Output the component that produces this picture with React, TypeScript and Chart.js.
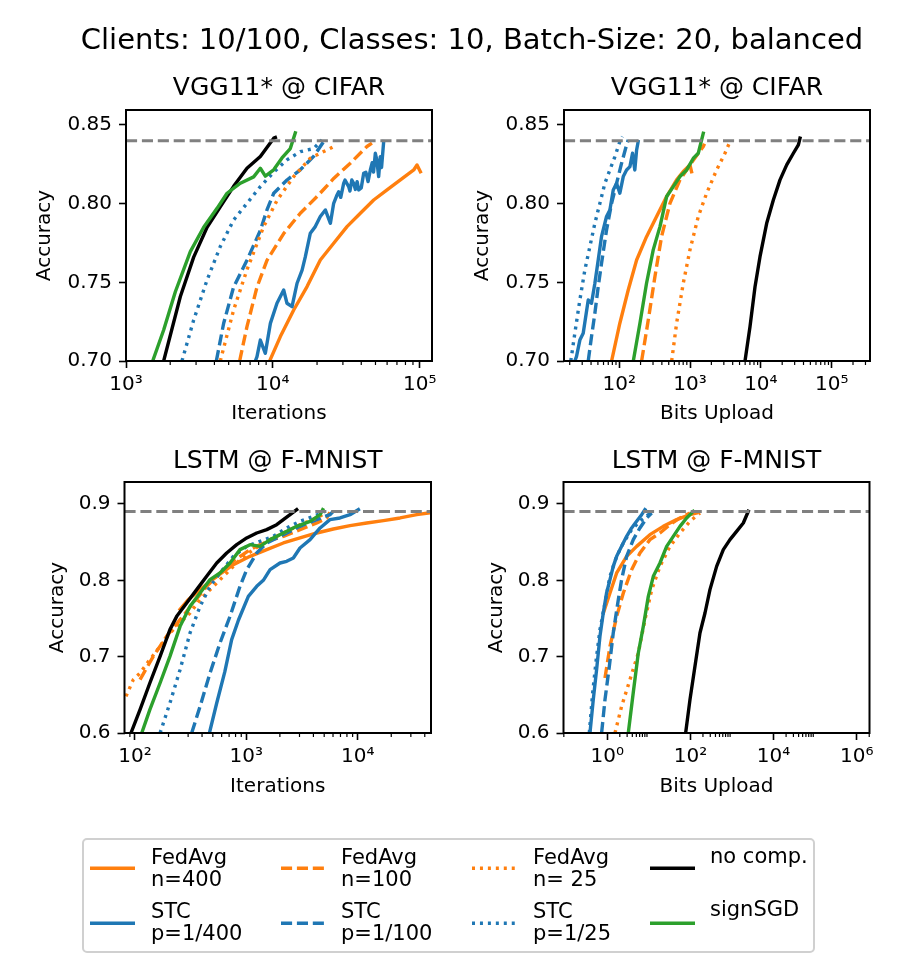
import React, { useEffect, useRef } from 'react';
import { Chart, registerables } from 'chart.js';
Chart.register(...registerables);

type Pt = [number, number];

const FONT = 'DejaVu Sans';

// ---------- series metadata (legend order, also plotting order) ----------
const SERIES_LABELS = ['FedAvg n=400', 'STC p=1/400', 'FedAvg n=100', 'STC p=1/100', 'FedAvg n= 25', 'STC p=1/25', 'no comp.', 'signSGD'];
const ORANGE = '#ff7f0e';
const BLUE = '#1f77b4';
const GREEN = '#2ca02c';
const BLACK = '#000000';
const GRAY = '#808080';
const DASH = [11.1, 4.8];
const DOT = [3, 4.95];
const SERIES_COLORS = [ORANGE, BLUE, ORANGE, BLUE, ORANGE, BLUE, BLACK, GREEN];
const SERIES_DASHES: number[][] = [[], [], DASH, DASH, DOT, DOT, [], []];

// ---------- titles ----------
const SUPTITLE = 'Clients: 10/100, Classes: 10, Batch-Size: 20, balanced';
const TITLE_CIFAR = 'VGG11* @ CIFAR';
const TITLE_FMNIST = 'LSTM @ F-MNIST';
const X_LABEL_ITER = 'Iterations';
const X_LABEL_BITS = 'Bits Upload';
const Y_LABEL = 'Accuracy';

// ---------- thresholds ----------
const THRESH_CIFAR = 0.84;
const THRESH_FMNIST = 0.89;

// ---------- tick values ----------
const Y_TICKS_CIFAR = [0.7, 0.75, 0.8, 0.85];
const Y_TICKS_FMNIST = [0.6, 0.7, 0.8, 0.9];
const TL_X_MAJOR = [1e3, 1e4, 1e5];
const TL_X_LABELS = ['10³', '10⁴', '10⁵'];
const TR_X_MAJOR = [1e2, 1e3, 1e4, 1e5];
const TR_X_LABELS = ['10²', '10³', '10⁴', '10⁵'];
const BL_X_MAJOR = [1e2, 1e3, 1e4];
const BL_X_LABELS = ['10²', '10³', '10⁴'];
const BR_X_MAJOR = [1, 1e2, 1e4, 1e6];
const BR_X_LABELS = ['10⁰', '10²', '10⁴', '10⁶'];
const TL_MINOR_DECADES = [3, 4, 5];
const TR_MINOR_DECADES = [1, 2, 3, 4, 5];
const BL_MINOR_DECADES = [1, 2, 3, 4];
const BR_MINOR_DECADES = [-2, 0, 2, 4, 6];

// ---------- axis ranges ----------
const TL_X_RANGE = [1000, 121300];
const TR_X_RANGE = [16.6, 347500];
const BL_X_RANGE = [80.5, 45500];
const BR_X_RANGE = [0.0884, 2.03e6];
const Y_RANGE_CIFAR = [0.7, 0.8595];
const Y_RANGE_FMNIST = [0.6, 0.9288];

// ---------- TOP-LEFT: VGG11* @ CIFAR, iterations ----------
const TL_FEDAVG_400: Pt[] = [[9510, 0.700], [11250, 0.7155], [13870, 0.7324], [17100, 0.7473], [21050, 0.7642], [25960, 0.7748], [31990, 0.7854], [39420, 0.7939], [48600, 0.8023], [59940, 0.8087], [73860, 0.8151], [91070, 0.8214], [95900, 0.8246], [101100, 0.8203]];
const TL_STC_400: Pt[] = [[7600, 0.700], [7800, 0.7028], [8220, 0.7133], [8890, 0.7049], [9620, 0.7239], [10670, 0.7367], [11850, 0.7451], [12480, 0.7367], [13510, 0.7345], [14620, 0.7494], [15820, 0.7578], [16650, 0.7663], [18000, 0.7812], [19460, 0.7854], [21050, 0.7918], [22780, 0.796], [24660, 0.7875], [25960, 0.8002], [27200, 0.805], [28070, 0.8076], [29000, 0.804], [30360, 0.8129], [31000, 0.815], [32830, 0.8108], [33500, 0.808], [34500, 0.815], [35500, 0.8129], [36500, 0.809], [37500, 0.814], [38420, 0.8087], [40000, 0.81], [41560, 0.8193], [43000, 0.82], [44500, 0.814], [46130, 0.8214], [47500, 0.826], [48500, 0.82], [49890, 0.832], [51000, 0.828], [52550, 0.8172], [53920, 0.8299], [55000, 0.823], [56860, 0.8394]];
const TL_FEDAVG_100: Pt[] = [[5940, 0.700], [6665, 0.7218], [7800, 0.747], [9120, 0.764], [11850, 0.781], [15380, 0.7939], [20000, 0.8045], [25960, 0.816], [33700, 0.8257], [43740, 0.8363], [47300, 0.8384]];
const TL_STC_100: Pt[] = [[4122, 0.700], [4625, 0.724], [5405, 0.747], [6665, 0.764], [8220, 0.783], [9120, 0.796], [10140, 0.8066], [12480, 0.815], [15380, 0.8215], [18960, 0.830], [22180, 0.8394]];
const TL_FEDAVG_25: Pt[] = [[4385, 0.700], [5405, 0.7324], [6665, 0.758], [8660, 0.7854], [10670, 0.802], [13870, 0.8172], [18000, 0.8289], [24660, 0.8352], [25960, 0.8363]];
const TL_STC_25: Pt[] = [[2404, 0.700], [2890, 0.726], [3565, 0.7515], [4385, 0.7727], [5405, 0.7896], [6665, 0.8002], [8220, 0.8108], [10140, 0.820], [12480, 0.8278], [15380, 0.833], [18960, 0.835], [21600, 0.8405]];
const TL_NOCOMP: Pt[] = [[1805, 0.700], [2345, 0.741], [2890, 0.766], [3565, 0.785], [4385, 0.798], [5405, 0.811], [6665, 0.8225], [8220, 0.830], [10140, 0.8416], [10400, 0.842]];
const TL_SIGNSGD: Pt[] = [[1520, 0.700], [1805, 0.7197], [2168, 0.744], [2742, 0.7695], [3380, 0.785], [4170, 0.797], [4876, 0.8066], [6012, 0.813], [7400, 0.817], [8220, 0.8225], [8890, 0.8175], [10130, 0.8215], [11540, 0.829], [13150, 0.835], [14220, 0.845]];

// ---------- TOP-RIGHT: VGG11* @ CIFAR, bits upload ----------
const TR_FEDAVG_400: Pt[] = [[78, 0.700], [102, 0.724], [134, 0.7451], [176, 0.7642], [243, 0.779], [337, 0.7918], [467, 0.8045], [646, 0.8151], [802, 0.8204], [997, 0.8246], [1050, 0.8203]];
const TR_STC_400: Pt[] = [[23.6, 0.700], [24.9, 0.7028], [27.8, 0.7133], [31, 0.7176], [36.5, 0.7388], [40.6, 0.7367], [45.3, 0.7494], [50.5, 0.7642], [56.2, 0.779], [66.2, 0.7918], [73.8, 0.796], [82.3, 0.8087], [91.7, 0.8129], [102, 0.8066], [114, 0.8172], [127, 0.8214], [141.6, 0.8235], [154, 0.832], [166, 0.8214], [176, 0.8341], [185, 0.8394]];
const TR_FEDAVG_100: Pt[] = [[207, 0.700], [257, 0.726], [319, 0.7536], [396, 0.779], [520, 0.8002], [720, 0.8151], [997, 0.8246], [1307, 0.832], [1537, 0.8363], [1600, 0.838]];
const TR_STC_100: Pt[] = [[36.5, 0.700], [40.6, 0.7155], [45.3, 0.7303], [50.5, 0.7473], [56.2, 0.762], [66.2, 0.7833], [78, 0.8002], [91.7, 0.8129], [108, 0.8257], [127, 0.8373], [134, 0.8405]];
const TR_FEDAVG_25: Pt[] = [[550, 0.700], [646, 0.724], [802, 0.7494], [997, 0.7706], [1307, 0.7918], [1714, 0.8066], [2372, 0.8214], [3111, 0.832], [3660, 0.8394]];
const TR_STC_25: Pt[] = [[20.7, 0.700], [23.6, 0.7176], [27.8, 0.7388], [32.7, 0.7578], [38.5, 0.7727], [45.3, 0.7875], [53.3, 0.8002], [62.7, 0.8129], [73.8, 0.8214], [86.9, 0.8299], [102, 0.8394], [111, 0.8426]];
const TR_NOCOMP: Pt[] = [[5970, 0.700], [7020, 0.7218], [8260, 0.747], [9720, 0.7663], [12080, 0.7875], [15000, 0.8023], [18630, 0.8151], [23160, 0.8246], [28770, 0.832], [33840, 0.8373], [35700, 0.8416]];
const TR_SIGNSGD: Pt[] = [[158, 0.700], [196, 0.724], [243, 0.7494], [302, 0.7706], [376, 0.7854], [467, 0.8045], [580, 0.8108], [720, 0.8172], [895, 0.8214], [1112, 0.8288], [1307, 0.832], [1537, 0.8447]];

// ---------- BOTTOM-LEFT: LSTM @ F-MNIST, iterations ----------
const BL_FEDAVG_400: Pt[] = [[254, 0.762], [300, 0.7745], [384, 0.7878], [542, 0.8052], [764, 0.8205], [1079, 0.8314], [1524, 0.8402], [2149, 0.8489], [3032, 0.8555], [4285, 0.862], [6040, 0.8672], [8530, 0.8716], [12050, 0.8751], [17010, 0.8782], [24000, 0.8817], [33880, 0.886], [43150, 0.8882]];
const BL_STC_400: Pt[] = [[466, 0.600], [542, 0.6393], [640, 0.680], [738, 0.7223], [850, 0.748], [1042, 0.779], [1239, 0.7921], [1420, 0.800], [1633, 0.814], [2006, 0.8227], [2301, 0.8249], [2642, 0.8293], [3032, 0.8424], [3733, 0.8533], [4592, 0.8686], [5630, 0.8795], [6930, 0.8817], [8530, 0.886], [10140, 0.8926]];
const BL_FEDAVG_100: Pt[] = [[111, 0.670], [146, 0.7004], [192, 0.7266], [254, 0.7485], [334, 0.7703], [440, 0.7921], [580, 0.8096], [764, 0.8249], [1079, 0.8402], [1524, 0.8511], [2149, 0.8576], [3032, 0.8664], [4285, 0.8751], [5270, 0.8817], [5630, 0.889]];
const BL_STC_100: Pt[] = [[323, 0.600], [384, 0.6349], [472, 0.6786], [580, 0.7179], [713, 0.7528], [877, 0.7921], [1007, 0.814], [1239, 0.8358], [1524, 0.8489], [2149, 0.8598], [3032, 0.8707], [4285, 0.8795], [5630, 0.886], [6040, 0.8904]];
const BL_FEDAVG_25: Pt[] = [[83, 0.648], [96.6, 0.6699], [111, 0.6786], [136, 0.6961], [168, 0.7135], [206, 0.731], [254, 0.7441], [312, 0.7572], [384, 0.7747], [505, 0.7921], [666, 0.8096], [877, 0.8271], [1156, 0.8402], [1524, 0.8511], [2149, 0.862], [3032, 0.8729], [4285, 0.8817], [5090, 0.8882]];
const BL_STC_25: Pt[] = [[168, 0.600], [206, 0.6393], [254, 0.683], [312, 0.731], [384, 0.7659], [472, 0.7921], [580, 0.8096], [764, 0.8314], [1007, 0.8445], [1327, 0.8511], [1749, 0.8576], [2301, 0.8686], [3032, 0.8773], [4000, 0.8838], [5090, 0.8904]];
const BL_NOCOMP: Pt[] = [[92, 0.600], [111, 0.6306], [136, 0.6655], [168, 0.7004], [206, 0.7354], [237, 0.7528], [291, 0.7703], [358, 0.7878], [440, 0.8052], [542, 0.8227], [666, 0.8358], [819, 0.8467], [1007, 0.8555], [1239, 0.862], [1524, 0.8664], [1872, 0.8729], [2149, 0.8795], [2467, 0.886], [2832, 0.8926]];
const BL_SIGNSGD: Pt[] = [[115, 0.600], [136, 0.6306], [168, 0.6655], [206, 0.7004], [254, 0.7397], [312, 0.7659], [384, 0.7834], [472, 0.8009], [580, 0.8096], [713, 0.8227], [877, 0.8402], [1079, 0.8467], [1327, 0.8445], [1633, 0.8533], [2149, 0.862], [2832, 0.8707], [3733, 0.8773], [4592, 0.886], [4850, 0.8926]];

// ---------- BOTTOM-RIGHT: LSTM @ F-MNIST, bits upload ----------
const BR_FEDAVG_400: Pt[] = [[0.83, 0.7594], [1.16, 0.7834], [1.68, 0.8096], [2.92, 0.8314], [5.08, 0.8445], [10.6, 0.8598], [22.2, 0.8707], [46.6, 0.8795], [97.5, 0.886], [141, 0.8882]];
const BR_STC_400: Pt[] = [[0.383, 0.600], [0.46, 0.6437], [0.553, 0.683], [0.666, 0.7266], [0.8, 0.7572], [0.96, 0.7834], [1.16, 0.8009], [1.39, 0.8183], [1.68, 0.8314], [2.21, 0.8445], [2.92, 0.8576], [3.85, 0.8686], [5.08, 0.8773], [6.7, 0.886], [8.05, 0.8926]];
const BR_FEDAVG_100: Pt[] = [[0.88, 0.672], [1.16, 0.7135], [1.68, 0.7528], [2.43, 0.7834], [3.85, 0.814], [6.1, 0.8358], [10.6, 0.8533], [18.5, 0.862], [32.2, 0.8729], [56, 0.8817], [97.5, 0.8882]];
const BR_STC_100: Pt[] = [[0.73, 0.600], [0.88, 0.6437], [1.12, 0.6873], [1.39, 0.731], [1.84, 0.7747], [2.21, 0.8009], [2.92, 0.8314], [4.22, 0.8533], [6.1, 0.8686], [8.84, 0.8817], [11.7, 0.8882]];
const BR_FEDAVG_25: Pt[] = [[1.53, 0.600], [2.21, 0.6349], [3.51, 0.6699], [5.57, 0.7048], [8.05, 0.7485], [11.7, 0.7878], [18.5, 0.8183], [32.2, 0.8445], [56, 0.862], [97.5, 0.8773], [169.5, 0.8882]];
const BR_STC_25: Pt[] = [[0.369, 0.600], [0.444, 0.6524], [0.553, 0.7004], [0.666, 0.7354], [0.88, 0.7703], [1.16, 0.8052], [1.68, 0.8314], [2.43, 0.8489], [3.85, 0.8664], [6.1, 0.8773], [9.7, 0.886], [11.7, 0.8882]];
const BR_NOCOMP: Pt[] = [[76.7, 0.600], [97.5, 0.6437], [128.5, 0.6873], [169.5, 0.731], [224, 0.7572], [295, 0.7878], [427, 0.8183], [618, 0.8402], [893, 0.8533], [1291, 0.8642], [1871, 0.8751], [2466, 0.8904]];
const BR_SIGNSGD: Pt[] = [[3.2, 0.600], [4.2, 0.6524], [5.57, 0.7048], [7.35, 0.7397], [9.7, 0.779], [12.8, 0.8052], [18.5, 0.8227], [26.8, 0.8445], [38.7, 0.8576], [56, 0.8707], [81, 0.8817], [117, 0.8904]];

// ---------- panel configuration ----------
interface Box { x: number; y: number; w: number; h: number; padRight: number; titlePadTop: number; titlePadBottom: number; yWidth: number; yTitlePad: number; xHeight: number; xTitlePad: number; }
interface PanelCfg {
  title: string; xLabel: string;
  xRange: number[]; yRange: number[];
  yTicks: number[]; yDecimals: number;
  xMajor: number[]; xLabels: string[]; minorDecades: number[];
  threshold: number; series: Pt[][]; box: Box;
}

function minorTicks(decades: number[], min: number, max: number): number[] {
  const out: number[] = [];
  for (const e of decades) for (let m = 2; m <= 9; m++) {
    const v = m * Math.pow(10, e);
    if (v >= min * 0.9999 && v <= max * 1.0001) out.push(v);
  }
  return out;
}

const PANELS: PanelCfg[] = [
  {
    title: TITLE_CIFAR, xLabel: X_LABEL_ITER, xRange: TL_X_RANGE, yRange: Y_RANGE_CIFAR, yTicks: Y_TICKS_CIFAR, yDecimals: 2,
    xMajor: TL_X_MAJOR, xLabels: TL_X_LABELS, minorDecades: TL_MINOR_DECADES, threshold: THRESH_CIFAR,
    series: [TL_FEDAVG_400, TL_STC_400, TL_FEDAVG_100, TL_STC_100, TL_FEDAVG_25, TL_STC_25, TL_NOCOMP, TL_SIGNSGD],
    box: { x: 0, y: 60, w: 450, h: 375, padRight: 18, titlePadTop: 13.7, titlePadBottom: 6.3, yWidth: 126, yTitlePad: 33, xHeight: 74, xTitlePad: 9 },
  },
  {
    title: TITLE_CIFAR, xLabel: X_LABEL_BITS, xRange: TR_X_RANGE, yRange: Y_RANGE_CIFAR, yTicks: Y_TICKS_CIFAR, yDecimals: 2,
    xMajor: TR_X_MAJOR, xLabels: TR_X_LABELS, minorDecades: TR_MINOR_DECADES, threshold: THRESH_CIFAR,
    series: [TR_FEDAVG_400, TR_STC_400, TR_FEDAVG_100, TR_STC_100, TR_FEDAVG_25, TR_STC_25, TR_NOCOMP, TR_SIGNSGD],
    box: { x: 450, y: 60, w: 450, h: 375, padRight: 30, titlePadTop: 13.7, titlePadBottom: 6.3, yWidth: 114, yTitlePad: 21, xHeight: 74, xTitlePad: 9 },
  },
  {
    title: TITLE_FMNIST, xLabel: X_LABEL_ITER, xRange: BL_X_RANGE, yRange: Y_RANGE_FMNIST, yTicks: Y_TICKS_FMNIST, yDecimals: 1,
    xMajor: BL_X_MAJOR, xLabels: BL_X_LABELS, minorDecades: BL_MINOR_DECADES, threshold: THRESH_FMNIST,
    series: [BL_FEDAVG_400, BL_STC_400, BL_FEDAVG_100, BL_STC_100, BL_FEDAVG_25, BL_STC_25, BL_NOCOMP, BL_SIGNSGD],
    box: { x: 0, y: 435, w: 450, h: 380, padRight: 19, titlePadTop: 11, titlePadBottom: 6, yWidth: 124.5, yTitlePad: 46, xHeight: 82, xTitlePad: 16 },
  },
  {
    title: TITLE_FMNIST, xLabel: X_LABEL_BITS, xRange: BR_X_RANGE, yRange: Y_RANGE_FMNIST, yTicks: Y_TICKS_FMNIST, yDecimals: 1,
    xMajor: BR_X_MAJOR, xLabels: BR_X_LABELS, minorDecades: BR_MINOR_DECADES, threshold: THRESH_FMNIST,
    series: [BR_FEDAVG_400, BR_STC_400, BR_FEDAVG_100, BR_STC_100, BR_FEDAVG_25, BR_STC_25, BR_NOCOMP, BR_SIGNSGD],
    box: { x: 450, y: 435, w: 450, h: 380, padRight: 30.5, titlePadTop: 11, titlePadBottom: 6, yWidth: 113.5, yTitlePad: 35, xHeight: 82, xTitlePad: 16 },
  },
];

function isMajor(v: number, majors: number[]) {
  return majors.some((m) => Math.abs(v - m) / m < 1e-6);
}

function Panel({ cfg }: { cfg: PanelCfg }) {
  const ref = useRef<HTMLCanvasElement>(null);
  useEffect(() => {
    const canvas = ref.current;
    if (!canvas) return;
    const [xMin, xMax] = cfg.xRange;
    const [yMin, yMax] = cfg.yRange;
    const minors = minorTicks(cfg.minorDecades, xMin, xMax);
    const b = cfg.box;

    const datasets: any[] = cfg.series.map((pts, i) => ({
      label: SERIES_LABELS[i],
      data: pts.map(([x, y]) => ({ x, y })),
      borderColor: SERIES_COLORS[i],
      backgroundColor: SERIES_COLORS[i],
      borderDash: SERIES_DASHES[i],
      borderWidth: 3.4,
      borderCapStyle: SERIES_DASHES[i].length ? 'butt' : 'square',
      borderJoinStyle: 'round',
      pointRadius: 0,
      fill: false,
      tension: 0,
      clip: 0,
      order: -i,
    }));
    datasets.push({
      label: 'threshold',
      data: [{ x: xMin, y: cfg.threshold }, { x: xMax, y: cfg.threshold }],
      borderColor: GRAY,
      borderDash: DASH,
      borderWidth: 3,
      borderCapStyle: 'butt',
      pointRadius: 0,
      fill: false,
      clip: 0,
      order: -100,
    });

    const framePlugin = {
      id: 'frame',
      afterDraw(chart: any) {
        const { ctx, chartArea } = chart;
        const { left, top, right, bottom } = chartArea;
        const xs = chart.scales.x;
        ctx.save();
        ctx.strokeStyle = '#000';
        ctx.lineWidth = 1.2;
        for (const v of minors) {
          const px = xs.getPixelForValue(v);
          ctx.beginPath();
          ctx.moveTo(px, bottom);
          ctx.lineTo(px, bottom + 4);
          ctx.stroke();
        }
        ctx.lineWidth = 2;
        ctx.strokeRect(left, top, right - left, bottom - top);
        ctx.restore();
      },
    };

    const chart = new Chart(canvas, {
      type: 'line',
      data: { datasets },
      plugins: [framePlugin],
      options: {
        animation: false,
        responsive: false,
        maintainAspectRatio: false,
        events: [],
        layout: { padding: { left: 0, top: 0, right: b.padRight, bottom: 0 } },
        plugins: {
          legend: { display: false },
          tooltip: { enabled: false },
          title: {
            display: true,
            fullSize: false,
            text: cfg.title,
            color: '#000',
            font: { family: FONT, size: 25, weight: 'normal', lineHeight: 1.2 },
            padding: { top: b.titlePadTop, bottom: b.titlePadBottom },
          },
        },
        scales: {
          x: {
            type: 'logarithmic',
            min: xMin,
            max: xMax,
            afterBuildTicks: (s: any) => {
              const all = [...cfg.xMajor.filter((v) => v >= xMin && v <= xMax), ...minors].sort((a, c) => a - c);
              s.ticks = all.map((v) => ({ value: v, major: false }));
            },
            afterFit: (s: any) => { s.height = b.xHeight; },
            ticks: {
              autoSkip: false,
              maxRotation: 0,
              minRotation: 0,
              padding: 4.5,
              color: '#000',
              font: { family: FONT, size: 20 },
              callback: (v: any) => {
                const idx = cfg.xMajor.findIndex((m) => Math.abs(Number(v) - m) / m < 1e-6);
                return idx >= 0 ? cfg.xLabels[idx] : '';
              },
            },
            grid: {
              display: true,
              drawOnChartArea: false,
              drawTicks: true,
              tickLength: 7,
              tickWidth: 1.6,
              tickColor: (c: any) => (c.tick && isMajor(c.tick.value, cfg.xMajor) ? '#000' : 'rgba(0,0,0,0)'),
            },
            border: { display: false },
            title: {
              display: true,
              text: cfg.xLabel,
              color: '#000',
              font: { family: FONT, size: 20, lineHeight: 1.2 },
              padding: { top: 0, bottom: b.xTitlePad },
            },
          },
          y: {
            type: 'linear',
            min: yMin,
            max: yMax,
            afterBuildTicks: (s: any) => {
              s.ticks = cfg.yTicks.map((v) => ({ value: v }));
            },
            afterFit: (s: any) => { s.width = b.yWidth; },
            ticks: {
              autoSkip: false,
              padding: 7,
              color: '#000',
              font: { family: FONT, size: 20 },
              callback: (v: any) => Number(v).toFixed(cfg.yDecimals),
            },
            grid: {
              display: true,
              drawOnChartArea: false,
              drawTicks: true,
              tickLength: 7,
              tickWidth: 1.6,
              tickColor: '#000',
            },
            border: { display: false },
            title: {
              display: true,
              text: Y_LABEL,
              color: '#000',
              font: { family: FONT, size: 20, lineHeight: 1.2 },
              padding: { top: b.yTitlePad, bottom: 0 },
            },
          },
        },
      } as any,
    });
    return () => chart.destroy();
  }, [cfg]);

  return (
    <canvas
      ref={ref}
      width={cfg.box.w}
      height={cfg.box.h}
      style={{ position: 'absolute', left: cfg.box.x, top: cfg.box.y, width: cfg.box.w, height: cfg.box.h }}
    />
  );
}

// ---------- legend layout (column-major, 4 columns x 2 rows) ----------
const LEGEND_LINES: string[][] = [['FedAvg', 'n=400'], ['STC', 'p=1/400'], ['FedAvg', 'n=100'], ['STC', 'p=1/100'], ['FedAvg', 'n= 25'], ['STC', 'p=1/25'], ['no comp.'], ['signSGD']];

function Legend() {
  const colHandleX = [90, 281, 472, 650];
  const colTextX = [151, 341, 533, 710];
  const rowHandleY = [868.3, 923.3];
  const rowBase = [864.3, 918];
  const lineGap = 22;
  return (
    <g>
      <rect x={83} y={839} width={731} height={113} rx={4} ry={4} fill="#fff" stroke="#d0d0d0" strokeWidth={2} />
      {LEGEND_LINES.map((lines, i) => {
        const col = Math.floor(i / 2);
        const row = i % 2;
        const dash = SERIES_DASHES[i];
        const single = lines.length === 1;
        return (
          <g key={i}>
            <line
              x1={colHandleX[col]}
              x2={colHandleX[col] + 45}
              y1={rowHandleY[row]}
              y2={rowHandleY[row]}
              stroke={SERIES_COLORS[i]}
              strokeWidth={3.4}
              strokeDasharray={dash.length ? dash.join(' ') : undefined}
            />
            {lines.map((t, k) => (
              <text
                key={k}
                x={colTextX[col]}
                y={rowBase[row] + k * lineGap - (single ? 1.8 : 0)}
                fontFamily={FONT}
                fontSize={21}
                fill="#000"
                style={{ whiteSpace: 'pre' }}
              >
                {t}
              </text>
            ))}
          </g>
        );
      })}
    </g>
  );
}

export default function App() {
  return (
    <div style={{ position: 'absolute', left: 0, top: 0, width: 900, height: 961, background: '#fff', overflow: 'hidden' }}>
      {PANELS.map((p, i) => (
        <Panel key={i} cfg={p} />
      ))}
      <svg width={900} height={961} style={{ position: 'absolute', left: 0, top: 0, pointerEvents: 'none' }}>
        <text x={472} y={49.3} textAnchor="middle" fontFamily={FONT} fontSize={29} fill="#000">
          {SUPTITLE}
        </text>
        <Legend />
      </svg>
    </div>
  );
}
